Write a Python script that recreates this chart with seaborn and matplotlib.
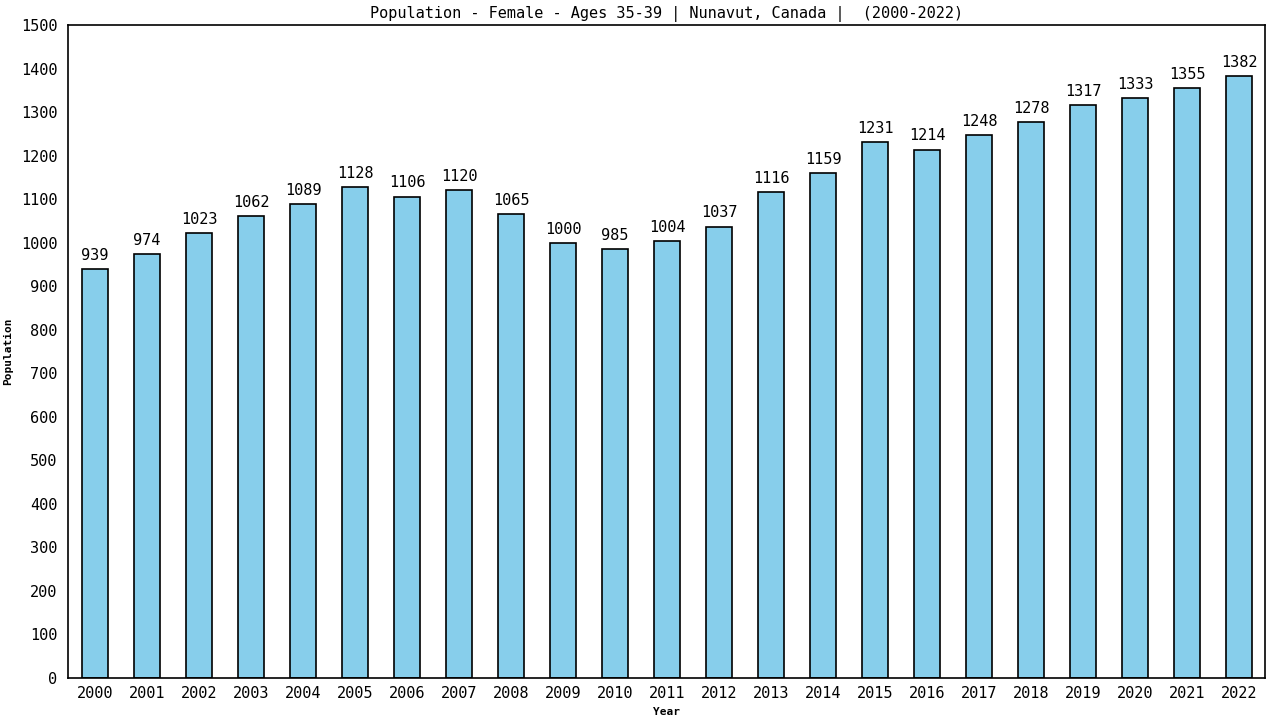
import matplotlib
matplotlib.use("Agg")
import matplotlib.pyplot as plt
import seaborn as sns
import pandas as pd

years = [str(y) for y in range(2000, 2023)]
values = [939, 974, 1023, 1062, 1089, 1128, 1106, 1120, 1065, 1000, 985, 1004,
          1037, 1116, 1159, 1231, 1214, 1248, 1278, 1317, 1333, 1355, 1382]

sns.set_style("white")
plt.rcParams['font.family'] = ['DejaVu Sans Mono']
plt.rcParams['text.color'] = 'black'
plt.rcParams['axes.labelcolor'] = 'black'
plt.rcParams['xtick.color'] = 'black'
plt.rcParams['ytick.color'] = 'black'

df = pd.DataFrame({"Year": years, "Population": values})
fig = plt.figure(figsize=(12.8, 7.2), dpi=100)
ax = fig.add_axes([68/1280, 42/720, (1265-68)/1280, (678-25)/720])
sns.barplot(data=df, x="Year", y="Population", color="#87CEEB", width=0.5,
            edgecolor="black", linewidth=1.2, saturation=1, ax=ax)
for i, v in enumerate(values):
    ax.text(i, v + 14, str(v), ha="center", va="bottom", fontsize=11, color="black")
ax.set_ylim(0, 1500)
ax.set_xlim(-0.52, 22.5)
ax.set_yticks(range(0, 1501, 100))
ax.tick_params(axis="y", direction="inout", length=8, labelsize=11, width=1)
ax.tick_params(axis="x", length=0, labelsize=11, pad=6)
for s in ax.spines.values():
    s.set_color("black")
    s.set_linewidth(1.2)
ax.set_xlabel("Year", fontsize=8, fontweight="bold", labelpad=4)
ax.set_ylabel("Population", fontsize=8, fontweight="bold")
ax.yaxis.set_label_coords((13 - 68) / 1197, 0.5)
ax.set_title("Population - Female - Ages 35-39 | Nunavut, Canada |  (2000-2022)",
             fontsize=11, pad=5, color="black")
fig.savefig("out.png", dpi=100)
